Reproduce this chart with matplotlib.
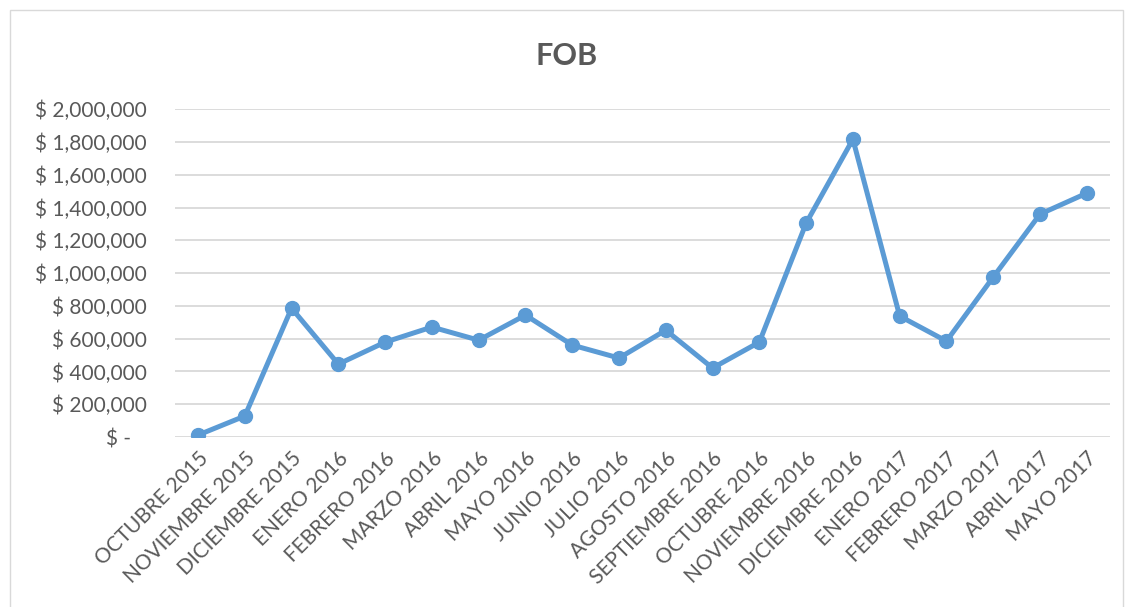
import matplotlib.pyplot as plt
from matplotlib.patches import Rectangle
from matplotlib.ticker import FuncFormatter

meses = ["OCTUBRE 2015", "NOVIEMBRE 2015", "DICIEMBRE 2015", "ENERO 2016",
         "FEBRERO 2016", "MARZO 2016", "ABRIL 2016", "MAYO 2016", "JUNIO 2016",
         "JULIO 2016", "AGOSTO 2016", "SEPTIEMBRE 2016", "OCTUBRE 2016",
         "NOVIEMBRE 2016", "DICIEMBRE 2016", "ENERO 2017", "FEBRERO 2017",
         "MARZO 2017", "ABRIL 2017", "MAYO 2017"]
fob = [12000, 128000, 786000, 445000, 579000, 671000, 591000, 744000, 561000,
       482000, 652000, 421000, 579000, 1305000, 1817000, 738000, 585000,
       976000, 1360000, 1488000]
y_ticks = [0, 200000, 400000, 600000, 800000, 1000000, 1200000, 1400000,
           1600000, 1800000, 2000000]

plt.rcParams['font.family'] = ['Lato', 'DejaVu Sans']
gris = '#595959'

fig = plt.figure(figsize=(11.34, 6.07), dpi=100)
ax = fig.add_axes([0.154, 0.280, 0.825, 0.540])

ax.plot(range(len(meses)), fob, color='#5B9BD5', linewidth=3.6,
        marker='o', markersize=10, zorder=3)

ax.set_xlim(-0.5, len(meses) - 0.5)
ax.set_ylim(0, 2000000)
ax.set_yticks(y_ticks)


def dinero(v, pos):
    if v == 0:
        return '$ -   '
    return f'$ {v:,.0f}'


ax.yaxis.set_major_formatter(FuncFormatter(dinero))
ax.set_xticks(range(len(meses)))
ax.set_xticklabels(meses, rotation=45, ha='right', rotation_mode='anchor')

ax.tick_params(axis='y', length=0, pad=20, labelsize=15, labelcolor=gris)
ax.tick_params(axis='x', length=0, pad=8, labelsize=15, labelcolor=gris)
ax.grid(axis='y', color='#D9D9D9', linewidth=1.3)
ax.set_axisbelow(True)
for s in ax.spines.values():
    s.set_visible(False)

fig.text(0.5, 0.908, 'FOB', ha='center', va='center', fontsize=22,
         fontweight='bold', color=gris)

fig.patches.append(Rectangle((10 / 1134, -0.02), 1113 / 1134, 1.02 - 10 / 607,
                             transform=fig.transFigure, fill=False,
                             edgecolor='#D9D9D9', linewidth=1))

fig.savefig('out.png', dpi=100)
